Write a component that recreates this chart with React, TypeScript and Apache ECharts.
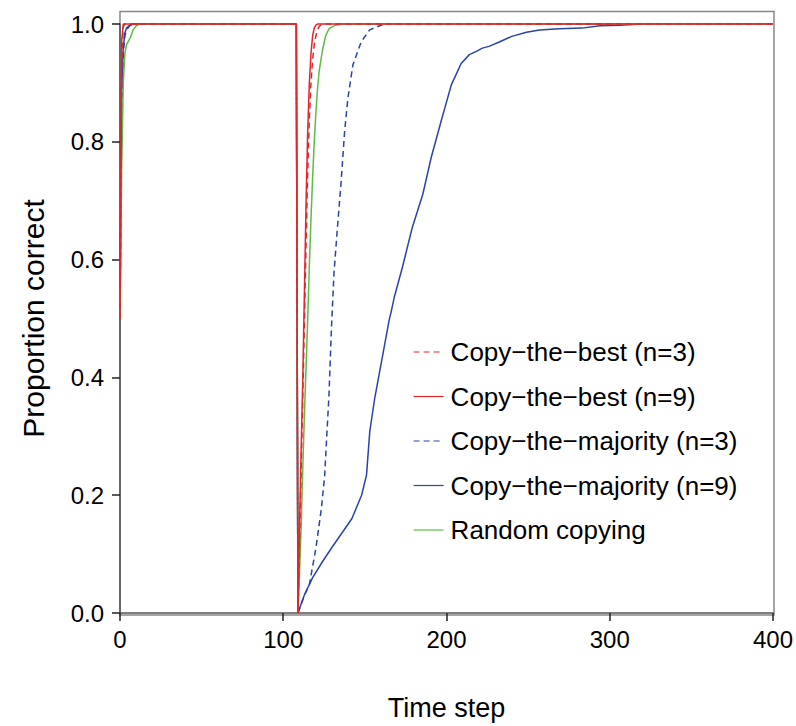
import React, { useEffect, useRef } from "react";
import * as echarts from "echarts";

// Copy-the-best (n=3)
const ctb3T = [0, 1, 2, 3, 108, 109, 110, 111, 112, 113, 114, 115, 116, 117, 118, 119, 120, 121, 122, 124, 400];
const ctb3V = [0.5, 0.93, 0.995, 1.0, 1.0, 0.0, 0.12, 0.25, 0.37, 0.5, 0.63, 0.75, 0.84, 0.9, 0.94, 0.965, 0.98, 0.99, 0.996, 1.0, 1.0];

// Copy-the-best (n=9)
const ctb9T = [0, 1, 2, 108, 109, 110, 111, 112, 113, 114, 115, 116, 117, 118, 119, 120, 121, 400];
const ctb9V = [0.5, 0.97, 1.0, 1.0, 0.0, 0.15, 0.28, 0.4, 0.55, 0.7, 0.82, 0.9, 0.95, 0.98, 0.993, 0.998, 1.0, 1.0];

// Copy-the-majority (n=3)
const ctm3T = [0, 1, 2, 3, 4, 6, 9, 108, 109, 113, 116, 120, 123.4, 125.4, 126.8, 128, 129.5, 131.1, 133.1, 135.4, 137.6, 139.6, 142.7, 147.8, 152.9, 159, 162, 400];
const ctm3V = [0.5, 0.85, 0.95, 0.98, 0.99, 0.997, 1.0, 1.0, 0.0, 0.03, 0.048, 0.11, 0.178, 0.234, 0.308, 0.369, 0.482, 0.578, 0.651, 0.73, 0.818, 0.874, 0.931, 0.97, 0.99, 0.997, 1.0, 1.0];

// Copy-the-majority (n=9)
const ctm9T = [0, 1, 2, 3, 4, 6, 8, 108, 109, 113, 118, 124, 130, 135, 142, 148, 151, 153, 156, 159, 162, 165, 166, 168, 173, 179, 185.5, 190.6, 196.7, 203, 206, 209, 214, 218, 222, 226, 232, 240, 249, 257, 269, 283, 294, 306, 320, 400];
const ctm9V = [0.5, 0.88, 0.96, 0.985, 0.993, 0.998, 1.0, 1.0, 0.0, 0.031, 0.06, 0.087, 0.112, 0.132, 0.16, 0.2, 0.234, 0.308, 0.364, 0.409, 0.454, 0.499, 0.51, 0.536, 0.587, 0.654, 0.711, 0.773, 0.835, 0.897, 0.915, 0.933, 0.948, 0.953, 0.959, 0.962, 0.969, 0.979, 0.986, 0.99, 0.992, 0.993, 0.997, 0.998, 1.0, 1.0];

// Random copying
const rndT = [0, 1, 2, 3, 4, 5, 6, 7, 8, 10, 12, 108, 109, 110, 111, 112, 113, 114, 115, 116, 117, 118, 119, 120, 121, 122, 124, 126, 128, 132, 136, 400];
const rndV = [0.5, 0.75, 0.9, 0.95, 0.965, 0.97, 0.975, 0.982, 0.99, 0.997, 1.0, 1.0, 0.0, 0.07, 0.15, 0.25, 0.34, 0.42, 0.5, 0.59, 0.67, 0.74, 0.8, 0.85, 0.89, 0.92, 0.955, 0.98, 0.992, 0.998, 1.0, 1.0];

const seriesNames = [
  "Copy\u2212the\u2212best (n=3)",
  "Copy\u2212the\u2212best (n=9)",
  "Copy\u2212the\u2212majority (n=3)",
  "Copy\u2212the\u2212majority (n=9)",
  "Random copying",
];

const xTicks = { min: 0, max: 400, interval: 100 };
const yTicks = { min: 0, max: 1, interval: 0.2 };

const RED = "#e3262b";
const BLUE = "#2a44a8";
const GREEN = "#5cbc48";
const FONT = "'Liberation Sans', Arial, sans-serif";

const zip = (t: number[], v: number[]) => t.map((x, i) => [x, v[i]]);

export default function App() {
  const ref = useRef<HTMLDivElement>(null);
  useEffect(() => {
    if (!ref.current) return;
    const chart = echarts.init(ref.current, null, { renderer: "svg" });
    const mk = (name: string, data: number[][], color: string, dashed: boolean) => ({
      name,
      type: "line",
      data,
      symbol: "none",
      clip: false,
      lineStyle: { color, width: 1.5, type: dashed ? [6, 4] : "solid" },
      itemStyle: { color },
    });
    chart.setOption({
      animation: false,
      backgroundColor: "#ffffff",
      textStyle: { fontFamily: FONT },
      grid: { left: 120, top: 24, width: 654, height: 591 },
      xAxis: {
        type: "value",
        ...xTicks,
        name: "Time step",
        nameLocation: "middle",
        nameGap: 81,
        nameTextStyle: { fontSize: 27, color: "#000", fontFamily: FONT },
        axisLine: { show: true, lineStyle: { color: "#555", width: 1.5 } },
        axisTick: { show: true, length: 8, lineStyle: { color: "#222", width: 1.5 } },
        axisLabel: { fontSize: 24, color: "#000", margin: 14, fontFamily: FONT },
        splitLine: { show: false },
      },
      yAxis: {
        type: "value",
        ...yTicks,
        name: "Proportion correct",
        nameLocation: "middle",
        nameRotate: 90,
        nameGap: 72,
        nameTextStyle: { fontSize: 30, color: "#000", fontFamily: FONT },
        axisLine: { show: true, lineStyle: { color: "#555", width: 1.5 } },
        axisTick: { show: true, length: 8, lineStyle: { color: "#222", width: 1.5 } },
        axisLabel: { fontSize: 24, color: "#000", margin: 16, fontFamily: FONT, formatter: (v: number) => v.toFixed(1) },
        splitLine: { show: false },
      },
      legend: {
        show: true,
        orient: "vertical",
        left: 413,
        top: 337,
        padding: 0,
        itemWidth: 30,
        itemHeight: 14,
        itemGap: 14.5,
        data: seriesNames,
        itemStyle: { opacity: 0 },
        lineStyle: { width: 1.2 },
        textStyle: { fontSize: 26, lineHeight: 30, color: "#000", fontFamily: FONT, padding: [0, 0, 0, 2] },
      },
      graphic: [
        {
          type: "rect",
          silent: true,
          z: -1,
          shape: { x: 120, y: 11.5, width: 654, height: 603.5 },
          style: { fill: "none", stroke: "#888", lineWidth: 1.5 },
        },
      ],
      series: [
        mk(seriesNames[3], zip(ctm9T, ctm9V), BLUE, false),
        mk(seriesNames[2], zip(ctm3T, ctm3V), BLUE, true),
        mk(seriesNames[4], zip(rndT, rndV), GREEN, false),
        mk(seriesNames[0], zip(ctb3T, ctb3V), RED, true),
        mk(seriesNames[1], zip(ctb9T, ctb9V), RED, false),
      ],
    });
    return () => chart.dispose();
  }, []);
  return (
    <div
      ref={ref}
      style={{ position: "fixed", left: 0, top: 0, width: 796, height: 726, background: "#fff" }}
    />
  );
}
